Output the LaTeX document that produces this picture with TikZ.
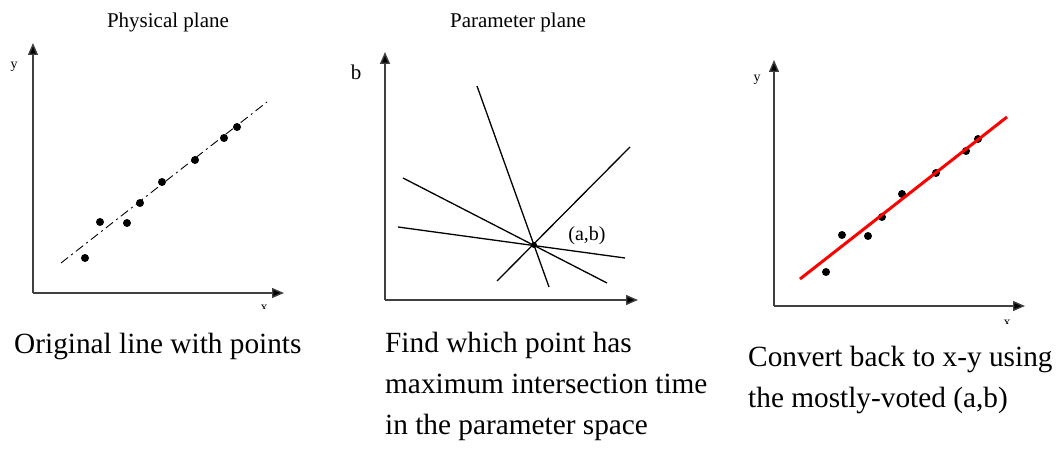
\documentclass[tikz,border=0pt]{standalone}
\usepackage{fontspec}
\setmainfont{Liberation Serif}
\usetikzlibrary{arrows.meta}
\tikzset{
  axis/.style={draw=black!75, line width=1.4pt, -{Triangle[length=12pt,width=10pt,fill=black]}},
  pdot/.style={circle, fill=black, inner sep=0pt, minimum size=8pt},
  title/.style={font=\fontsize{21}{24}\selectfont},
  small/.style={font=\fontsize{14}{16}\selectfont, inner sep=0pt},
  caption/.style={font=\fontsize{29.3}{41}\selectfont, anchor=west, inner sep=0pt, align=left},
  pline/.style={line width=1.3pt, black},
}
\begin{document}
\begin{tikzpicture}[x=1pt,y=-1pt]
\useasboundingbox (0,0) rectangle (1058,457);
% ---------------- Panel 1 ----------------
\node[title] (t1) at (168,22) {Physical plane};
\coordinate (o1) at (33,293);
\coordinate (ya1) at (33,43);
\coordinate (xa1) at (284,293);
\draw[axis] (o1) -- (ya1);
\draw[axis] (o1) -- (xa1);
\node[small] (ly1) at (14,67) {y};
\begin{scope}
  \clip (250,300) rectangle (280,308.5);
  \node[small, anchor=north] (lx1) at (264,305) {x};
\end{scope}
\coordinate (d1a) at (61,263);
\coordinate (d1b) at (267,102);
\draw[line width=0.9pt, dash pattern=on 9pt off 4pt on 2pt off 4pt] (d1a) -- (d1b);
\foreach \n/\px/\py in {1/85/258, 2/100/222, 3/127/223, 4/140/203, 5/162/182, 6/195/160, 7/224/138, 8/237/127}
  \node[pdot] (a\n) at (\px,\py) {};
% ---------------- Panel 2 ----------------
\node[title] (t2) at (518,22) {Parameter plane};
\coordinate (o2) at (385,300);
\coordinate (ya2) at (385,52);
\coordinate (xa2) at (638,300);
\draw[axis] (o2) -- (ya2);
\draw[axis] (o2) -- (xa2);
\node[font=\fontsize{21}{24}\selectfont, inner sep=0pt] (lb) at (356,72) {b};
\coordinate (l1a) at (477,86);  \coordinate (l1b) at (549,287);
\coordinate (l2a) at (497,281); \coordinate (l2b) at (630,147);
\coordinate (l3a) at (403,178); \coordinate (l3b) at (607,283);
\coordinate (l4a) at (398,227); \coordinate (l4b) at (625,258);
\draw[pline] (l1a) -- (l1b);
\draw[pline] (l2a) -- (l2b);
\draw[pline] (l3a) -- (l3b);
\draw[pline] (l4a) -- (l4b);
\node[circle, fill=black, inner sep=0pt, minimum size=6pt] (ab) at (534,245) {};
\node[font=\fontsize{20}{24}\selectfont, inner sep=0pt] (lab) at (587,236) {(a,b)};
% ---------------- Panel 3 ----------------
\coordinate (o3) at (774,306);
\coordinate (ya3) at (774,60);
\coordinate (xa3) at (1025,306);
\draw[axis] (o3) -- (ya3);
\draw[axis] (o3) -- (xa3);
\node[small] (ly3) at (757,80) {y};
\begin{scope}
  \clip (995,312) rectangle (1020,323.5);
  \node[small, anchor=north] (lx3) at (1007,319.5) {x};
\end{scope}
\foreach \n/\px/\py in {1/826/272, 2/842/235, 3/868/236, 4/882/217, 5/902/194, 6/936/173, 7/966/151, 8/978/139}
  \node[pdot] (c\n) at (\px,\py) {};
\coordinate (r1) at (800,279);
\coordinate (r2) at (1007,117);
\draw[red, line width=3pt] (r1) -- (r2);
% ---------------- Captions ----------------
\node[caption] (cap1) at (14,346) {Original line with points};
\node[caption, anchor=north west] (cap2) at (385,332) {Find which point has\\maximum intersection time\\in the parameter space};
\node[caption, anchor=north west] (cap3) at (748,346) {Convert back to x-y using\\the mostly-voted (a,b)};
\end{tikzpicture}
\end{document}
